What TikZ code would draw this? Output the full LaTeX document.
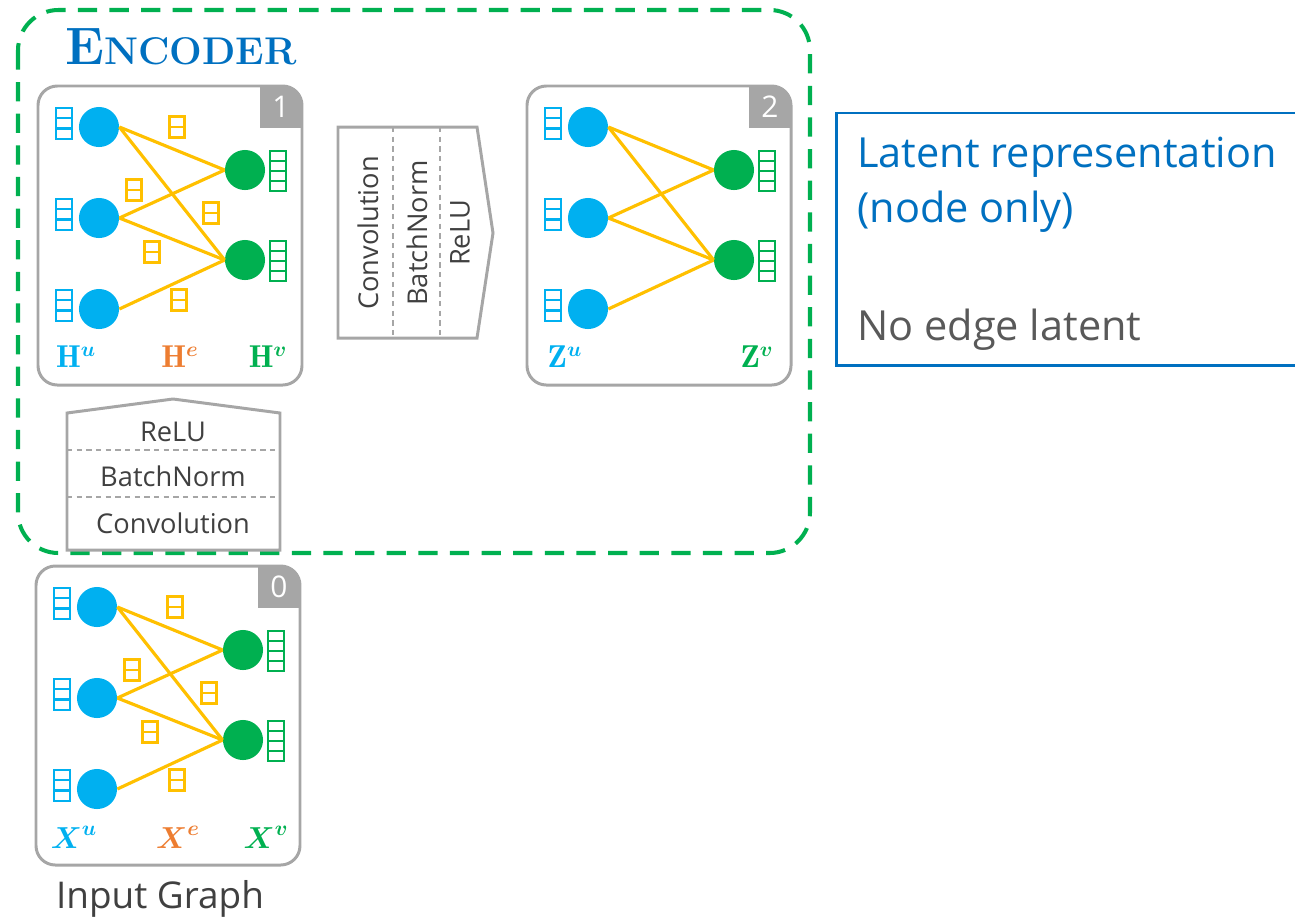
\documentclass[tikz,border=0pt]{standalone}
\usepackage{amsmath,amssymb}
\usepackage{fontspec}
\setsansfont{Open Sans}
\usepackage{tikz}

\definecolor{ublue}{HTML}{00B0F0}
\definecolor{vgreen}{HTML}{00B050}
\definecolor{eyellow}{HTML}{FFC000}
\definecolor{eorange}{HTML}{ED7D31}
\definecolor{pgray}{HTML}{A6A6A6}
\definecolor{tgray}{HTML}{404040}
\definecolor{lgray}{HTML}{595959}
\definecolor{encblue}{HTML}{0070C0}

\tikzset{
  unode/.style={circle, fill=ublue, inner sep=0pt, minimum size=22.8pt},
  vnode/.style={circle, fill=vgreen, inner sep=0pt, minimum size=22.8pt},
  gedge/.style={eyellow, line width=1.8pt},
  panelframe/.style={pgray, line width=1.7pt, rounded corners=11pt},
  layerframe/.style={pgray, line width=1.7pt, line join=miter},
  divider/.style={pgray, line width=0.6pt, dash pattern=on 3pt off 2.5pt},
  encframe/.style={vgreen, line width=2.3pt, dash pattern=on 11pt off 7pt, rounded corners=23pt},
  latentframe/.style={encblue, line width=1.7pt},
  badge/.style={text=white, font=\sffamily\fontsize{17}{17}\selectfont, inner sep=0pt},
  layertext/.style={text=tgray, font=\sffamily\fontsize{15.5}{15.5}\selectfont, inner sep=0pt},
  featlabel/.style={font=\fontsize{18}{18}\selectfont, inner sep=0pt}
}

% feature vector: left x, top y, cells, cell height, colour
\newcommand{\featbar}[5]{%
  \foreach \k in {1,...,#3}
    \draw[#5, line width=1.3pt] (#1,{#2+(\k-1)*#4}) rectangle ++(16,#4);
}

% edge feature: centre x, centre y
\newcommand{\efeat}[2]{%
  \foreach \k in {0,1}
    \draw[eyellow, line width=1.3pt] ({#1-7.5},{#2-10.5+\k*10.5}) rectangle ++(15,10.5);
}

% bipartite graph panel: prefix, shift x, shift y, badge, letter
\newcommand{\bgpanel}[5]{%
\begin{scope}[shift={(#2,#3)}]
  \begin{scope}
    \clip[rounded corners=11pt] (38,86) rectangle (302,385);
    \fill[pgray] (260,86) rectangle (302,128);
  \end{scope}
  \node[badge] (#1b) at (281,107) {#4};
  \draw[panelframe] (38,86) rectangle (302,385);

  \node[unode] (#1u1) at (99,127) {};
  \node[unode] (#1u2) at (99,218) {};
  \node[unode] (#1u3) at (99,309) {};
  \node[vnode] (#1v1) at (245,170) {};
  \node[vnode] (#1v2) at (245,260) {};

  \draw[gedge] (#1u1.east) -- (#1v1.west);
  \draw[gedge] (#1u1.east) -- (#1v2.west);
  \draw[gedge] (#1u2.east) -- (#1v1.west);
  \draw[gedge] (#1u2.east) -- (#1v2.west);
  \draw[gedge] (#1u3.east) -- (#1v2.west);

  \featbar{56}{108}{3}{10.3}{ublue}
  \featbar{56}{199}{3}{10.3}{ublue}
  \featbar{56}{290}{3}{10.3}{ublue}
  \featbar{270}{151}{4}{10}{vgreen}
  \featbar{270}{241}{4}{10}{vgreen}

  \node[featlabel, text=ublue] (#1lu) at (76,357) {$#5^{\boldsymbol{u}}$};
  \node[featlabel, text=vgreen] (#1lv) at (268,357) {$#5^{\boldsymbol{v}}$};
\end{scope}}

% edge features of a panel: prefix, shift x, shift y, letter
\newcommand{\bgedges}[4]{%
\begin{scope}[shift={(#2,#3)}]
  \efeat{177}{127}
  \efeat{134}{190}
  \efeat{211}{213}
  \efeat{152}{252}
  \efeat{179}{300}
  \node[featlabel, text=eorange] (#1le) at (180,357) {$#4^{\boldsymbol{e}}$};
\end{scope}}

\begin{document}
\begin{tikzpicture}[x=0.02cm, y=-0.02cm]
\useasboundingbox (0,0) rectangle (1295,917);

% encoder
\draw[encframe] (18,10) rectangle (810,553);
\node[text=encblue, inner sep=0pt] (enc) at (181,47)
  {\textbf{{\fontsize{30}{30}\selectfont E}{\fontsize{22}{22}\selectfont NCODER}}};

\bgpanel{h}{0}{0}{1}{\mathbf{H}}
\bgedges{h}{0}{0}{\mathbf{H}}
\bgpanel{z}{489}{0}{2}{\mathbf{Z}}
\bgpanel{x}{-2}{480}{0}{\boldsymbol{X}}
\bgedges{x}{-2}{480}{\boldsymbol{X}}

% layer block between 1 and 2
\draw[layerframe] (338,127) -- (477,127) -- (493,233) -- (477,338) -- (338,338) -- cycle;
\draw[divider] (393,127) -- (393,338);
\draw[divider] (440,127) -- (440,338);
\node[layertext, rotate=90] (conv2) at (368,233) {Convolution};
\node[layertext, rotate=90] (bn2) at (417,233) {BatchNorm};
\node[layertext, rotate=90] (relu2) at (460,233) {ReLU};

% layer block between 0 and 1
\draw[layerframe] (67,550) -- (67,413) -- (173,399) -- (280,413) -- (280,550) -- cycle;
\draw[divider] (67,450) -- (280,450);
\draw[divider] (67,497) -- (280,497);
\node[layertext] (relu1) at (173,432) {ReLU};
\node[layertext] (bn1) at (173,476) {BatchNorm};
\node[layertext] (conv1) at (173,523) {Convolution};

\node[text=tgray, font=\sffamily\fontsize{21}{21}\selectfont, anchor=base, inner sep=0pt] (input) at (160,908) {Input Graph};

% latent
\draw[latentframe] (836,113) rectangle (1330,365);
\node[text=encblue, font=\sffamily\fontsize{23.6}{23.6}\selectfont, anchor=base west, inner sep=0pt] (lat1) at (857,167) {Latent representation};
\node[text=encblue, font=\sffamily\fontsize{23.6}{23.6}\selectfont, anchor=base west, inner sep=0pt] (lat2) at (857,222) {(node only)};
\node[text=lgray, font=\sffamily\fontsize{23.6}{23.6}\selectfont, anchor=base west, inner sep=0pt] (noedge) at (857,340) {No edge latent};

\end{tikzpicture}
\end{document}
